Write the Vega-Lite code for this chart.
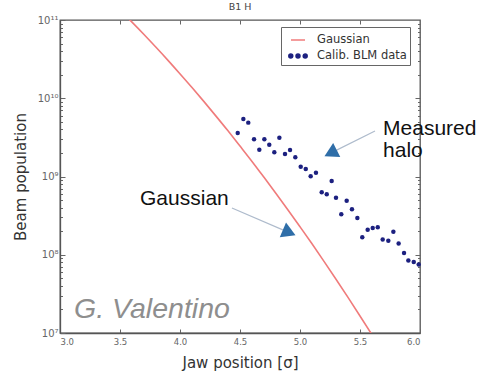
{
  "$schema": "https://vega.github.io/schema/vega-lite/v6.json",
  "width": 360,
  "height": 313,
  "autosize": {"type": "none"},
  "padding": {"left": 60, "top": 20, "right": 59, "bottom": 41},
  "title": {"text": "B1 H", "fontSize": 9.5, "fontWeight": "normal", "font": "DejaVu Sans", "color": "#444", "offset": 4},
  "config": {
    "view": {"stroke": "#555", "strokeWidth": 1.3},
    "axis": {"labelFont": "DejaVu Sans", "labelFontSize": 8.5, "labelColor": "#666", "tickColor": "#666", "domainColor": "#555", "domainWidth": 1.3, "grid": false, "titleFont": "DejaVu Sans", "titleFontSize": 15, "titleFontWeight": "normal", "titleColor": "#333"}
  },
  "datasets": {
    "gaussian": [
      {"x": 3.55, "y": 1.122e11, "series": "Gaussian"},
      {"x": 3.6, "y": 9.39e10, "series": "Gaussian"},
      {"x": 3.7, "y": 6.52e10, "series": "Gaussian"},
      {"x": 3.8, "y": 4.48e10, "series": "Gaussian"},
      {"x": 3.9, "y": 3.05e10, "series": "Gaussian"},
      {"x": 4.0, "y": 2.05e10, "series": "Gaussian"},
      {"x": 4.1, "y": 1.37e10, "series": "Gaussian"},
      {"x": 4.2, "y": 9.05e9, "series": "Gaussian"},
      {"x": 4.3, "y": 5.91e9, "series": "Gaussian"},
      {"x": 4.4, "y": 3.83e9, "series": "Gaussian"},
      {"x": 4.5, "y": 2.45e9, "series": "Gaussian"},
      {"x": 4.6, "y": 1.56e9, "series": "Gaussian"},
      {"x": 4.7, "y": 9.77e8, "series": "Gaussian"},
      {"x": 4.8, "y": 6.08e8, "series": "Gaussian"},
      {"x": 4.9, "y": 3.74e8, "series": "Gaussian"},
      {"x": 5.0, "y": 2.28e8, "series": "Gaussian"},
      {"x": 5.1, "y": 1.38e8, "series": "Gaussian"},
      {"x": 5.2, "y": 8.23e7, "series": "Gaussian"},
      {"x": 5.3, "y": 4.87e7, "series": "Gaussian"},
      {"x": 5.4, "y": 2.85e7, "series": "Gaussian"},
      {"x": 5.5, "y": 1.65e7, "series": "Gaussian"},
      {"x": 5.6, "y": 9.49e6, "series": "Gaussian"}
    ],
    "blm": [
      {"x": 4.481, "y": 3.6e9, "series": "Calib. BLM data"},
      {"x": 4.528, "y": 5.43e9, "series": "Calib. BLM data"},
      {"x": 4.569, "y": 4.88e9, "series": "Calib. BLM data"},
      {"x": 4.617, "y": 2.99e9, "series": "Calib. BLM data"},
      {"x": 4.661, "y": 2.2e9, "series": "Calib. BLM data"},
      {"x": 4.703, "y": 2.99e9, "series": "Calib. BLM data"},
      {"x": 4.744, "y": 2.55e9, "series": "Calib. BLM data"},
      {"x": 4.786, "y": 2.04e9, "series": "Calib. BLM data"},
      {"x": 4.828, "y": 3.13e9, "series": "Calib. BLM data"},
      {"x": 4.875, "y": 1.94e9, "series": "Calib. BLM data"},
      {"x": 4.917, "y": 2.18e9, "series": "Calib. BLM data"},
      {"x": 4.961, "y": 1.76e9, "series": "Calib. BLM data"},
      {"x": 5.006, "y": 1.33e9, "series": "Calib. BLM data"},
      {"x": 5.048, "y": 1.25e9, "series": "Calib. BLM data"},
      {"x": 5.089, "y": 1.01e9, "series": "Calib. BLM data"},
      {"x": 5.133, "y": 1.12e9, "series": "Calib. BLM data"},
      {"x": 5.181, "y": 6.28e8, "series": "Calib. BLM data"},
      {"x": 5.223, "y": 5.92e8, "series": "Calib. BLM data"},
      {"x": 5.264, "y": 8.75e8, "series": "Calib. BLM data"},
      {"x": 5.3, "y": 5.36e8, "series": "Calib. BLM data"},
      {"x": 5.344, "y": 3.29e8, "series": "Calib. BLM data"},
      {"x": 5.389, "y": 4.91e8, "series": "Calib. BLM data"},
      {"x": 5.433, "y": 3.81e8, "series": "Calib. BLM data"},
      {"x": 5.478, "y": 2.95e8, "series": "Calib. BLM data"},
      {"x": 5.519, "y": 1.67e8, "series": "Calib. BLM data"},
      {"x": 5.564, "y": 2.09e8, "series": "Calib. BLM data"},
      {"x": 5.606, "y": 2.2e8, "series": "Calib. BLM data"},
      {"x": 5.648, "y": 2.24e8, "series": "Calib. BLM data"},
      {"x": 5.689, "y": 1.57e8, "series": "Calib. BLM data"},
      {"x": 5.736, "y": 1.51e8, "series": "Calib. BLM data"},
      {"x": 5.778, "y": 1.97e8, "series": "Calib. BLM data"},
      {"x": 5.822, "y": 1.39e8, "series": "Calib. BLM data"},
      {"x": 5.867, "y": 1.05e8, "series": "Calib. BLM data"},
      {"x": 5.903, "y": 8.47e7, "series": "Calib. BLM data"},
      {"x": 5.948, "y": 8.09e7, "series": "Calib. BLM data"},
      {"x": 5.989, "y": 7.53e7, "series": "Calib. BLM data"}
    ],
    "notes": [
      {"x": 5.692, "y": 3.39e9, "text": "Measured"},
      {"x": 5.692, "y": 1.77e9, "text": "halo"},
      {"x": 3.667, "y": 4.32e8, "text": "Gaussian"}
    ],
    "watermark": [
      {"x": 3.117, "y": 1.56e7, "text": "G. Valentino"}
    ],
    "arrows": [
      {"name": "gauss", "x": 4.433, "y": 3.95e8, "x2": 4.91, "y2": 1.92e8},
      {"name": "halo", "x": 5.625, "y": 3.81e9, "x2": 5.255, "y2": 1.99e9}
    ]
  },
  "layer": [
    {
      "data": {"name": "gaussian"},
      "mark": {"type": "line", "clip": true, "strokeWidth": 1.6, "interpolate": "monotone"},
      "encoding": {
        "x": {"field": "x", "type": "quantitative", "scale": {"domain": [3, 6], "nice": false, "zero": false},
          "axis": {"orient": "bottom", "values": [3, 3.5, 4, 4.5, 5, 5.5, 6], "format": ".1f", "tickSize": -4, "labelPadding": 8, "title": "Jaw position [σ]", "titleY": 34, "titleBaseline": "alphabetic"}},
        "y": {"field": "y", "type": "quantitative", "scale": {"type": "log", "domain": [1e7, 1e11], "nice": false},
          "axis": {"orient": "left",
            "values": [1e7, 2e7, 3e7, 4e7, 5e7, 6e7, 7e7, 8e7, 9e7, 1e8, 2e8, 3e8, 4e8, 5e8, 6e8, 7e8, 8e8, 9e8, 1e9, 2e9, 3e9, 4e9, 5e9, 6e9, 7e9, 8e9, 9e9, 1e10, 2e10, 3e10, 4e10, 5e10, 6e10, 7e10, 8e10, 9e10, 1e11],
            "labelExpr": "abs(log(datum.value)/LN10 - round(log(datum.value)/LN10)) < 0.001 ? '10' + ['⁷','⁸','⁹','¹⁰','¹¹'][round(log(datum.value)/LN10) - 7] : ''",
            "labelFontSize": 10,
            "tickSize": {"condition": {"test": "abs(log(datum.value)/LN10 - round(log(datum.value)/LN10)) < 0.001", "value": -5}, "value": -2.5},
            "labelPadding": 7, "title": "Beam population", "titleX": -35, "titleBaseline": "alphabetic"}},
        "color": {"field": "series", "type": "nominal",
          "scale": {"domain": ["Gaussian", "Calib. BLM data"], "range": ["#f07b7b", "#1c2080"]},
          "legend": {"orient": "none", "legendX": 221, "legendY": 7, "title": null, "fillColor": "white", "strokeColor": "#666", "padding": 3, "symbolSize": 324, "symbolOffset": 4, "labelOffset": 9, "labelFont": "DejaVu Sans", "labelFontSize": 11.5, "labelColor": "#333", "rowPadding": 0,
            "encode": {"symbols": {"update": {
              "shape": {"signal": "datum.value === 'Gaussian' ? 'stroke' : 'M-1.02,0a0.22,0.22 0 1,0 0.44,0a0.22,0.22 0 1,0 -0.44,0M-0.22,0a0.22,0.22 0 1,0 0.44,0a0.22,0.22 0 1,0 -0.44,0M0.58,0a0.22,0.22 0 1,0 0.44,0a0.22,0.22 0 1,0 -0.44,0'"},
              "fill": {"signal": "datum.value === 'Gaussian' ? 'transparent' : '#1c2080'"},
              "stroke": {"signal": "datum.value === 'Gaussian' ? '#f07b7b' : 'transparent'"},
              "strokeWidth": {"value": 1.5},
              "size": {"signal": "datum.value === 'Gaussian' ? 196 : 324"},
              "opacity": {"value": 1}
            }}}}}
      }
    },
    {
      "data": {"name": "blm"},
      "mark": {"type": "circle", "size": 20, "opacity": 1},
      "encoding": {
        "x": {"field": "x", "type": "quantitative", "scale": {"domain": [3, 6], "nice": false, "zero": false},
          "axis": {"orient": "top", "values": [3.5, 4, 4.5, 5, 5.5], "labels": false, "domain": false, "tickSize": -4, "title": null}},
        "y": {"field": "y", "type": "quantitative", "scale": {"type": "log", "domain": [1e7, 1e11], "nice": false},
          "axis": {"orient": "right",
            "values": [2e7, 3e7, 4e7, 5e7, 6e7, 7e7, 8e7, 9e7, 1e8, 2e8, 3e8, 4e8, 5e8, 6e8, 7e8, 8e8, 9e8, 1e9, 2e9, 3e9, 4e9, 5e9, 6e9, 7e9, 8e9, 9e9, 1e10, 2e10, 3e10, 4e10, 5e10, 6e10, 7e10, 8e10, 9e10],
            "labels": false, "domain": false,
            "tickSize": {"condition": {"test": "abs(log(datum.value)/LN10 - round(log(datum.value)/LN10)) < 0.001", "value": -5}, "value": -2.5},
            "title": null}},
        "color": {"field": "series", "type": "nominal", "scale": {"domain": ["Gaussian", "Calib. BLM data"], "range": ["#f07b7b", "#1c2080"]}}
      }
    },
    {
      "data": {"name": "arrows"},
      "mark": {"type": "rule", "color": "#aebbcc", "strokeWidth": 1.2},
      "encoding": {
        "x": {"field": "x", "type": "quantitative", "scale": {"domain": [3, 6], "nice": false, "zero": false}, "axis": null},
        "y": {"field": "y", "type": "quantitative", "scale": {"type": "log", "domain": [1e7, 1e11], "nice": false}, "axis": null},
        "x2": {"field": "x2"},
        "y2": {"field": "y2"}
      }
    },
    {
      "data": {"name": "arrows"},
      "transform": [{"filter": "datum.name === 'gauss'"}],
      "mark": {"type": "point", "shape": "triangle-right", "filled": true, "color": "#2f6ea8", "opacity": 1, "size": 250, "angle": 23.3},
      "encoding": {
        "x": {"field": "x2", "type": "quantitative", "scale": {"domain": [3, 6], "nice": false, "zero": false}, "axis": null},
        "y": {"field": "y2", "type": "quantitative", "scale": {"type": "log", "domain": [1e7, 1e11], "nice": false}, "axis": null}
      }
    },
    {
      "data": {"name": "arrows"},
      "transform": [{"filter": "datum.name === 'halo'"}],
      "mark": {"type": "point", "shape": "triangle-right", "filled": true, "color": "#2f6ea8", "opacity": 1, "size": 250, "angle": 153.4},
      "encoding": {
        "x": {"field": "x2", "type": "quantitative", "scale": {"domain": [3, 6], "nice": false, "zero": false}, "axis": null},
        "y": {"field": "y2", "type": "quantitative", "scale": {"type": "log", "domain": [1e7, 1e11], "nice": false}, "axis": null}
      }
    },
    {
      "data": {"name": "notes"},
      "mark": {"type": "text", "align": "left", "baseline": "alphabetic", "font": "Liberation Sans", "fontSize": 21, "color": "#111"},
      "encoding": {
        "x": {"field": "x", "type": "quantitative", "scale": {"domain": [3, 6], "nice": false, "zero": false}, "axis": null},
        "y": {"field": "y", "type": "quantitative", "scale": {"type": "log", "domain": [1e7, 1e11], "nice": false}, "axis": null},
        "text": {"field": "text"}
      }
    },
    {
      "data": {"name": "watermark"},
      "mark": {"type": "text", "align": "left", "baseline": "alphabetic", "font": "Liberation Sans", "fontStyle": "italic", "fontSize": 28.5, "color": "#8e8e8e"},
      "encoding": {
        "x": {"field": "x", "type": "quantitative", "scale": {"domain": [3, 6], "nice": false, "zero": false}, "axis": null},
        "y": {"field": "y", "type": "quantitative", "scale": {"type": "log", "domain": [1e7, 1e11], "nice": false}, "axis": null},
        "text": {"field": "text"}
      }
    }
  ],
  "resolve": {"axis": {"x": "independent", "y": "independent"}}
}
